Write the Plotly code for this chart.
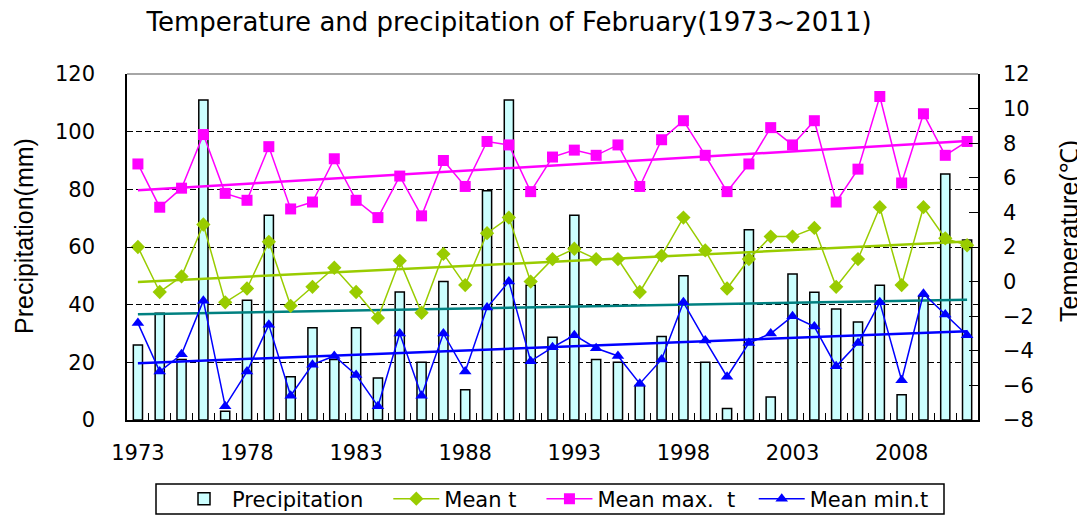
import numpy as np
import plotly.graph_objects as go

years = list(range(1973, 2012))
precipitation = [26, 37, 21, 111, 3, 41.5, 71, 15, 32, 21, 32, 14.6, 44.4, 20, 48, 10.5, 79.5, 111, 46.7, 28.7,
                 71, 21, 20, 12, 29, 50, 20, 4, 66, 8, 50.6, 44.3, 38.5, 34, 46.7, 8.8, 43, 85.3, 62.4]
mean_t = [2.0, -0.6, 0.3, 3.3, -1.2, -0.4, 2.3, -1.4, -0.3, 0.8, -0.6, -2.1, 1.2, -1.8, 1.6, -0.2, 2.8, 3.7, 0.0, 1.3,
          1.9, 1.3, 1.3, -0.6, 1.5, 3.7, 1.8, -0.4, 1.3, 2.6, 2.6, 3.1, -0.3, 1.3, 4.3, -0.2, 4.3, 2.5, 2.1]
mean_max = [6.8, 4.3, 5.4, 8.5, 5.1, 4.7, 7.8, 4.2, 4.6, 7.1, 4.7, 3.7, 6.1, 3.8, 7.0, 5.5, 8.1, 7.9, 5.2, 7.2,
            7.6, 7.3, 7.9, 5.5, 8.2, 9.3, 7.3, 5.2, 6.8, 8.9, 7.9, 9.3, 4.6, 6.5, 10.7, 5.7, 9.7, 7.3, 8.1]
mean_min = [-2.4, -5.2, -4.2, -1.1, -7.2, -5.2, -2.5, -6.6, -4.8, -4.3, -5.4, -7.2, -3.0, -6.6, -3.0, -5.2, -1.5, 0.0,
            -4.6, -3.8, -3.1, -3.85, -4.3, -5.9, -4.5, -1.2, -3.4, -5.5, -3.55, -3.0, -2.0, -2.6, -4.9, -3.55, -1.2,
            -5.7, -0.7, -1.9, -3.1]
tick_years = [1973, 1978, 1983, 1988, 1993, 1998, 2003, 2008]
tick_labels = [str(y) for y in tick_years]
series_names = ["Precipitation", "Mean t", "Mean max.\u00a0 t", "Mean min.t"]

x = np.array(years, dtype=float)


def trend(vals):
    k, b = np.polyfit(x, np.array(vals, dtype=float), 1)
    return k * x + b


def pad(name, n):
    return name + "\u00a0" * n


H_FONT = "DejaVu Sans"
V_FONT = "Liberation Sans"
GREEN = "#99CC00"
PINK = "#FF00FF"
BLUE = "#0000FF"
TEAL = "#008080"

fig = go.Figure()

fig.add_trace(go.Bar(x=years, y=precipitation, name=pad(series_names[0], 3), width=0.42,
                     marker=dict(color="#CCFFFF", line=dict(color="black", width=1.5)), yaxis="y"))
fig.add_trace(go.Scatter(x=years, y=trend(precipitation), mode="lines", showlegend=False,
                         line=dict(color=TEAL, width=2.5), yaxis="y"))

fig.add_trace(go.Scatter(x=years, y=mean_t, name=pad(series_names[1], 3), mode="lines+markers", yaxis="y2",
                         line=dict(color=GREEN, width=1.5),
                         marker=dict(symbol="diamond", size=11, color=GREEN)))
fig.add_trace(go.Scatter(x=years, y=mean_max, name=pad(series_names[2], 2), mode="lines+markers", yaxis="y2",
                         line=dict(color=PINK, width=1.5),
                         marker=dict(symbol="square", size=11, color=PINK)))
fig.add_trace(go.Scatter(x=years, y=mean_min, name=series_names[3], mode="lines+markers", yaxis="y2",
                         line=dict(color=BLUE, width=1.5),
                         marker=dict(symbol="triangle-up", size=11, color=BLUE)))

for vals, col in [(mean_t, GREEN), (mean_max, PINK), (mean_min, BLUE)]:
    fig.add_trace(go.Scatter(x=years, y=trend(vals), mode="lines", showlegend=False, yaxis="y2",
                             line=dict(color=col, width=2.5)))

# the page body has an 8px default margin, so the figure is placed 8px in from the window corner
OFF = 8
W, Hh = 1085 - OFF, 516 - OFF
L, T = 127 - OFF, 74 - OFF
R = W - (978 - OFF)
B = Hh - (420 - OFF)
pw, ph = W - L - R, Hh - T - B


def px_x(p):  # window pixel -> paper x
    return (p - OFF - L) / pw


def px_y(p):  # window pixel -> paper y
    return (Hh - B - (p - OFF)) / ph


fig.update_layout(
    width=W, height=Hh,
    margin=dict(l=L, r=R, t=T, b=B, autoexpand=False),
    paper_bgcolor="white", plot_bgcolor="white",
    showlegend=True,
    title=dict(text="Temperature and precipitation of February(1973~2011)",
               x=(509 - OFF) / W, xref="container", xanchor="center",
               y=1 - 14 / Hh, yref="container", yanchor="middle",
               font=dict(family=H_FONT, size=26, color="black")),
    xaxis=dict(range=[1972.5, 2011.5], tickmode="array", tickvals=tick_years, ticktext=tick_labels,
               showline=True, linecolor="black", linewidth=1.5, showgrid=False, zeroline=False,
               ticks="inside", ticklen=0, ticklabelstandoff=13, automargin=False,
               minor=dict(ticks="inside", ticklen=7, tick0=1972.5, dtick=1, tickcolor="black", showgrid=False),
               tickfont=dict(family=H_FONT, size=21, color="black")),
    yaxis=dict(range=[0, 120], dtick=20, showline=True, linecolor="black", linewidth=1.5,
               showgrid=True, gridcolor="black", griddash="6px,3px", gridwidth=1, zeroline=False,
               ticks="inside", ticklen=6, tickcolor="black", ticklabelstandoff=26, automargin=False,
               tickfont=dict(family=H_FONT, size=21, color="black")),
    yaxis2=dict(range=[-8, 12], dtick=2, overlaying="y", side="right", showline=True, linecolor="black",
                linewidth=1.5, showgrid=False, zeroline=False, ticks="inside", ticklen=9, tickcolor="black",
                ticklabelstandoff=19, automargin=False,
                tickfont=dict(family=H_FONT, size=21, color="black")),
    legend=dict(orientation="h", x=px_x(176), xanchor="left", y=px_y(499), yanchor="middle",
                borderwidth=0, bgcolor="rgba(0,0,0,0)",
                font=dict(family=H_FONT, size=21, color="black"), itemwidth=46,
                traceorder="normal"),
    annotations=[
        dict(text="Precipitation(mm)", xref="paper", yref="paper", x=px_x(24), y=px_y(236),
             xanchor="center", yanchor="middle", textangle=-90, showarrow=False, borderpad=0,
             font=dict(family=V_FONT, size=25, color="black")),
        dict(text="Temperature(℃)", xref="paper", yref="paper", x=px_x(1069), y=px_y(231),
             xanchor="center", yanchor="middle", textangle=-90, showarrow=False, borderpad=0,
             font=dict(family=V_FONT, size=25, color="black")),
    ],
    shapes=[
        dict(type="line", xref="paper", yref="paper", x0=0, x1=1, y0=1, y1=1,
             line=dict(color="#888888", width=1.5), layer="above"),
        dict(type="rect", xref="paper", yref="paper", x0=px_x(156), x1=px_x(944), y0=px_y(514), y1=px_y(484),
             line=dict(color="black", width=1.5), fillcolor="rgba(0,0,0,0)", layer="above"),
    ],
)

fig.write_html("out.html")
